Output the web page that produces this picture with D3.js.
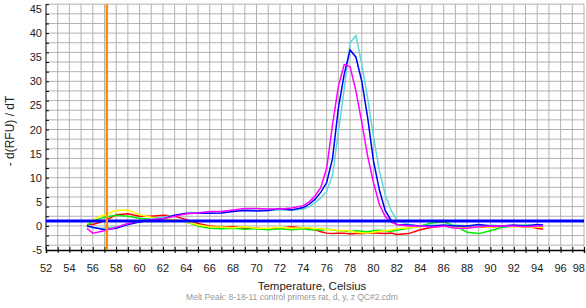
<!DOCTYPE html>
<html>
<head>
<meta charset="utf-8">
<script src="https://cdn.jsdelivr.net/npm/d3@7"></script>
<style>
  body { margin: 0; background: #fff; }
  svg text { font-family: "Liberation Sans", Arial, sans-serif; }
</style>
</head>
<body>
<div class="draw-melt"></div>
<script>
// temperature points (Celsius)
const temps = [55.5, 56, 57, 58, 59, 60, 61, 62, 63, 64, 65, 66, 67, 68, 69, 70, 71, 72, 73, 74,
  74.5, 75, 75.5, 76, 76.5, 77, 77.5, 78, 78.5, 79, 79.5, 80, 80.5, 81, 81.5, 82,
  83, 84, 85, 86, 87, 88, 89, 90, 91, 92, 93, 94, 94.5];

// -d(RFU)/dT per well
const redVals = [0.3, 0.3, 1, 2.3, 2.5, 2, 2, 2.2, 2, 1.3, 0.5, 0, -0.3, -0.2, -0.5, -0.5, -0.7, -0.5, -0.2, -0.5,
  -0.6, -0.8, -1.2, -1.5, -1.6, -1.5, -1.5, -1.7, -1.6, -1.6, -1.5, -1.4, -1.5, -1.6, -1.5, -1.8,
  -1.6, -0.8, -0.3, 0, 0, 0, -0.3, -0.3, 0, 0, 0, -0.5, -0.7];
const greenVals = [0, 1, 1.8, 2.2, 2, 1.6, 1.4, 1.5, 1.2, 0.8, 0, -0.5, -0.6, -0.5, -0.7, -0.6, -0.8, -0.6, -0.8, -0.6,
  -0.8, -0.8, -0.9, -0.7, -0.8, -1, -1, -1.2, -1, -1.1, -1.2, -1, -0.9, -1, -1.1, -0.9,
  -0.5, 0, 0.6, 0.8, 0, -1.3, -1.6, -1, -0.3, 0, 0.2, 0, -0.2];
const yellowVals = [0.5, 1.3, 2.3, 3.2, 3.3, 2.3, 1.8, 1.5, 1.3, 0.8, 0.2, -0.2, -0.3, -0.4, -0.2, -0.5, -0.5, -0.3, -0.5, -0.4,
  -0.4, -0.6, -0.5, -0.8, -0.8, -1, -0.9, -1.1, -1.3, -1.4, -1.5, -1.3, -1.1, -1, -0.8, -0.6,
  -0.4, -0.2, 0, 0, -0.3, -0.4, -0.2, -0.3, 0, -0.2, -0.3, -0.2, -0.4];
const magentaVals = [-0.5, -1.5, -1, -0.3, 0.5, 1, 1.3, 1.5, 2, 2.5, 2.7, 3, 3, 3.3, 3.6, 3.6, 3.5, 3.5, 3.7, 4.2,
  5, 6.2, 8, 12, 21, 29, 33.5, 33, 28, 21.5, 14.5, 9, 4.5, 2, 0.8, 0.3,
  0, 0, -0.3, 0, -0.5, -0.5, -0.2, 0, 0, 0, -0.2, 0, 0];
const blueVals = [0, -0.3, -0.8, -0.5, 0.3, 0.8, 1.2, 1.5, 2.2, 2.6, 2.6, 2.6, 2.7, 3, 3.2, 3.1, 3.2, 3.6, 3.3, 3.8,
  4.5, 5.5, 7, 9, 14, 24.5, 31.5, 36.5, 35, 30, 22.5, 13.5, 7.5, 3.2, 1.2, 0.3,
  0.2, 0, 0, 0.2, 0, 0, 0.3, 0, 0, 0.2, 0, 0.3, 0.2];
const cyanVals = [0, -0.5, -0.5, -0.2, 0.5, 1, 1.5, 1.8, 2.2, 2.5, 2.8, 2.9, 3, 3.2, 3.4, 3.3, 3.2, 3.3, 3.3, 3.5,
  4, 4.8, 5.8, 7.2, 10.5, 19.5, 28.5, 38, 39.5, 33.5, 26.5, 18.5, 11.5, 6.5, 3.2, 1.2,
  0.3, 0, 0.2, 0, 0.2, 0, 0, 0.2, 0, 0, 0.2, 0, 0];

const xTicks = d3.range(52, 99, 2);
const yTicks = [-5, 0, 5, 10, 15, 20, 25, 30, 35, 40, 45];
const threshold = 1.0;
const cursorTemp = 57.2;

const series = [
  { name: "red", color: "#ff0000", vals: redVals },
  { name: "green", color: "#00ee00", vals: greenVals },
  { name: "yellow", color: "#ffff00", vals: yellowVals },
  { name: "cyan", color: "#5fd8d8", vals: cyanVals },
  { name: "blue", color: "#0000ff", vals: blueVals },
  { name: "magenta", color: "#ff00ff", vals: magentaVals },
];

const W = 586, H = 308;
const svg = d3.select(".draw-melt").append("svg").attr("width", W).attr("height", H);

const x = d3.scaleLinear().domain([52, 98]).range([46, 584]);
const y = d3.scaleLinear().domain([-5, 45]).range([250, 9]);

// grid
const g = svg.append("g");
g.selectAll("line.vg").data(d3.range(53, 99, 1)).join("line")
  .attr("x1", d => x(d)).attr("x2", d => x(d))
  .attr("y1", y(46)).attr("y2", y(-5))
  .attr("stroke", "#b3b3b3").attr("stroke-width", 1);
g.selectAll("line.hg").data(d3.range(-4, 47, 2)).join("line")
  .attr("x1", x(52)).attr("x2", x(98))
  .attr("y1", d => y(d)).attr("y2", d => y(d))
  .attr("stroke", "#b3b3b3").attr("stroke-width", 1);

// axes
const xAxis = svg.append("g").attr("transform", "translate(0," + y(-5) + ")")
  .call(d3.axisBottom(x).tickValues(d3.range(52, 99, 1)).tickSize(3).tickFormat(""));
xAxis.selectAll(".tick line").attr("y1", -3);
xAxis.select(".domain").attr("stroke", "#000").attr("stroke-width", 1.5);
svg.append("g").attr("transform", "translate(0," + (y(-5) + 12) + ")")
  .selectAll("text").data(xTicks).join("text")
  .attr("x", d => d === 98 ? W - 1 : x(d)).attr("y", 10)
  .attr("text-anchor", d => d === 98 ? "end" : "middle")
  .attr("font-size", 11).attr("fill", "#222")
  .text(d => d);

const yAxis = svg.append("g").attr("transform", "translate(" + x(52) + ",0)")
  .call(d3.axisLeft(y).tickValues(d3.range(-4, 47, 2)).tickSize(6).tickFormat(""));
yAxis.selectAll(".tick line").attr("x2", 3);
yAxis.select(".domain").attr("stroke", "#000").attr("d", "M0," + y(46) + "V" + y(-5));
svg.append("g").selectAll("text").data(yTicks).join("text")
  .attr("x", 42).attr("y", d => y(d) + 4)
  .attr("text-anchor", "end").attr("font-size", 11).attr("fill", "#222")
  .text(d => d);

// curves
const line = d3.line().x((d, i) => x(temps[i])).y(d => y(d));
svg.append("g").selectAll("path").data(series).join("path")
  .attr("fill", "none").attr("stroke", d => d.color).attr("stroke-width", 1.5)
  .attr("d", d => line(d.vals));

// threshold + cursor
svg.append("line").attr("x1", x(52)).attr("x2", x(98))
  .attr("y1", y(threshold)).attr("y2", y(threshold))
  .attr("stroke", "#0000ff").attr("stroke-width", 3);
svg.append("line").attr("x1", x(cursorTemp)).attr("x2", x(cursorTemp))
  .attr("y1", y(46)).attr("y2", y(-5))
  .attr("stroke", "#ff8c00").attr("stroke-width", 2.5);

// labels
svg.append("text").attr("transform", "translate(14,131) rotate(-90)")
  .attr("text-anchor", "middle").attr("font-size", 12).attr("fill", "#222")
  .text("- d(RFU) / dT");
svg.append("text").attr("x", 312).attr("y", 290)
  .attr("text-anchor", "middle").attr("font-size", 11.5).attr("fill", "#222")
  .text("Temperature, Celsius");
svg.append("text").attr("x", 292).attr("y", 300)
  .attr("text-anchor", "middle").attr("font-size", 8.5).attr("fill", "#999")
  .text("Melt Peak: 8-18-11 control primers rat, d, y, z QC#2.cdm");
</script>
</body>
</html>
